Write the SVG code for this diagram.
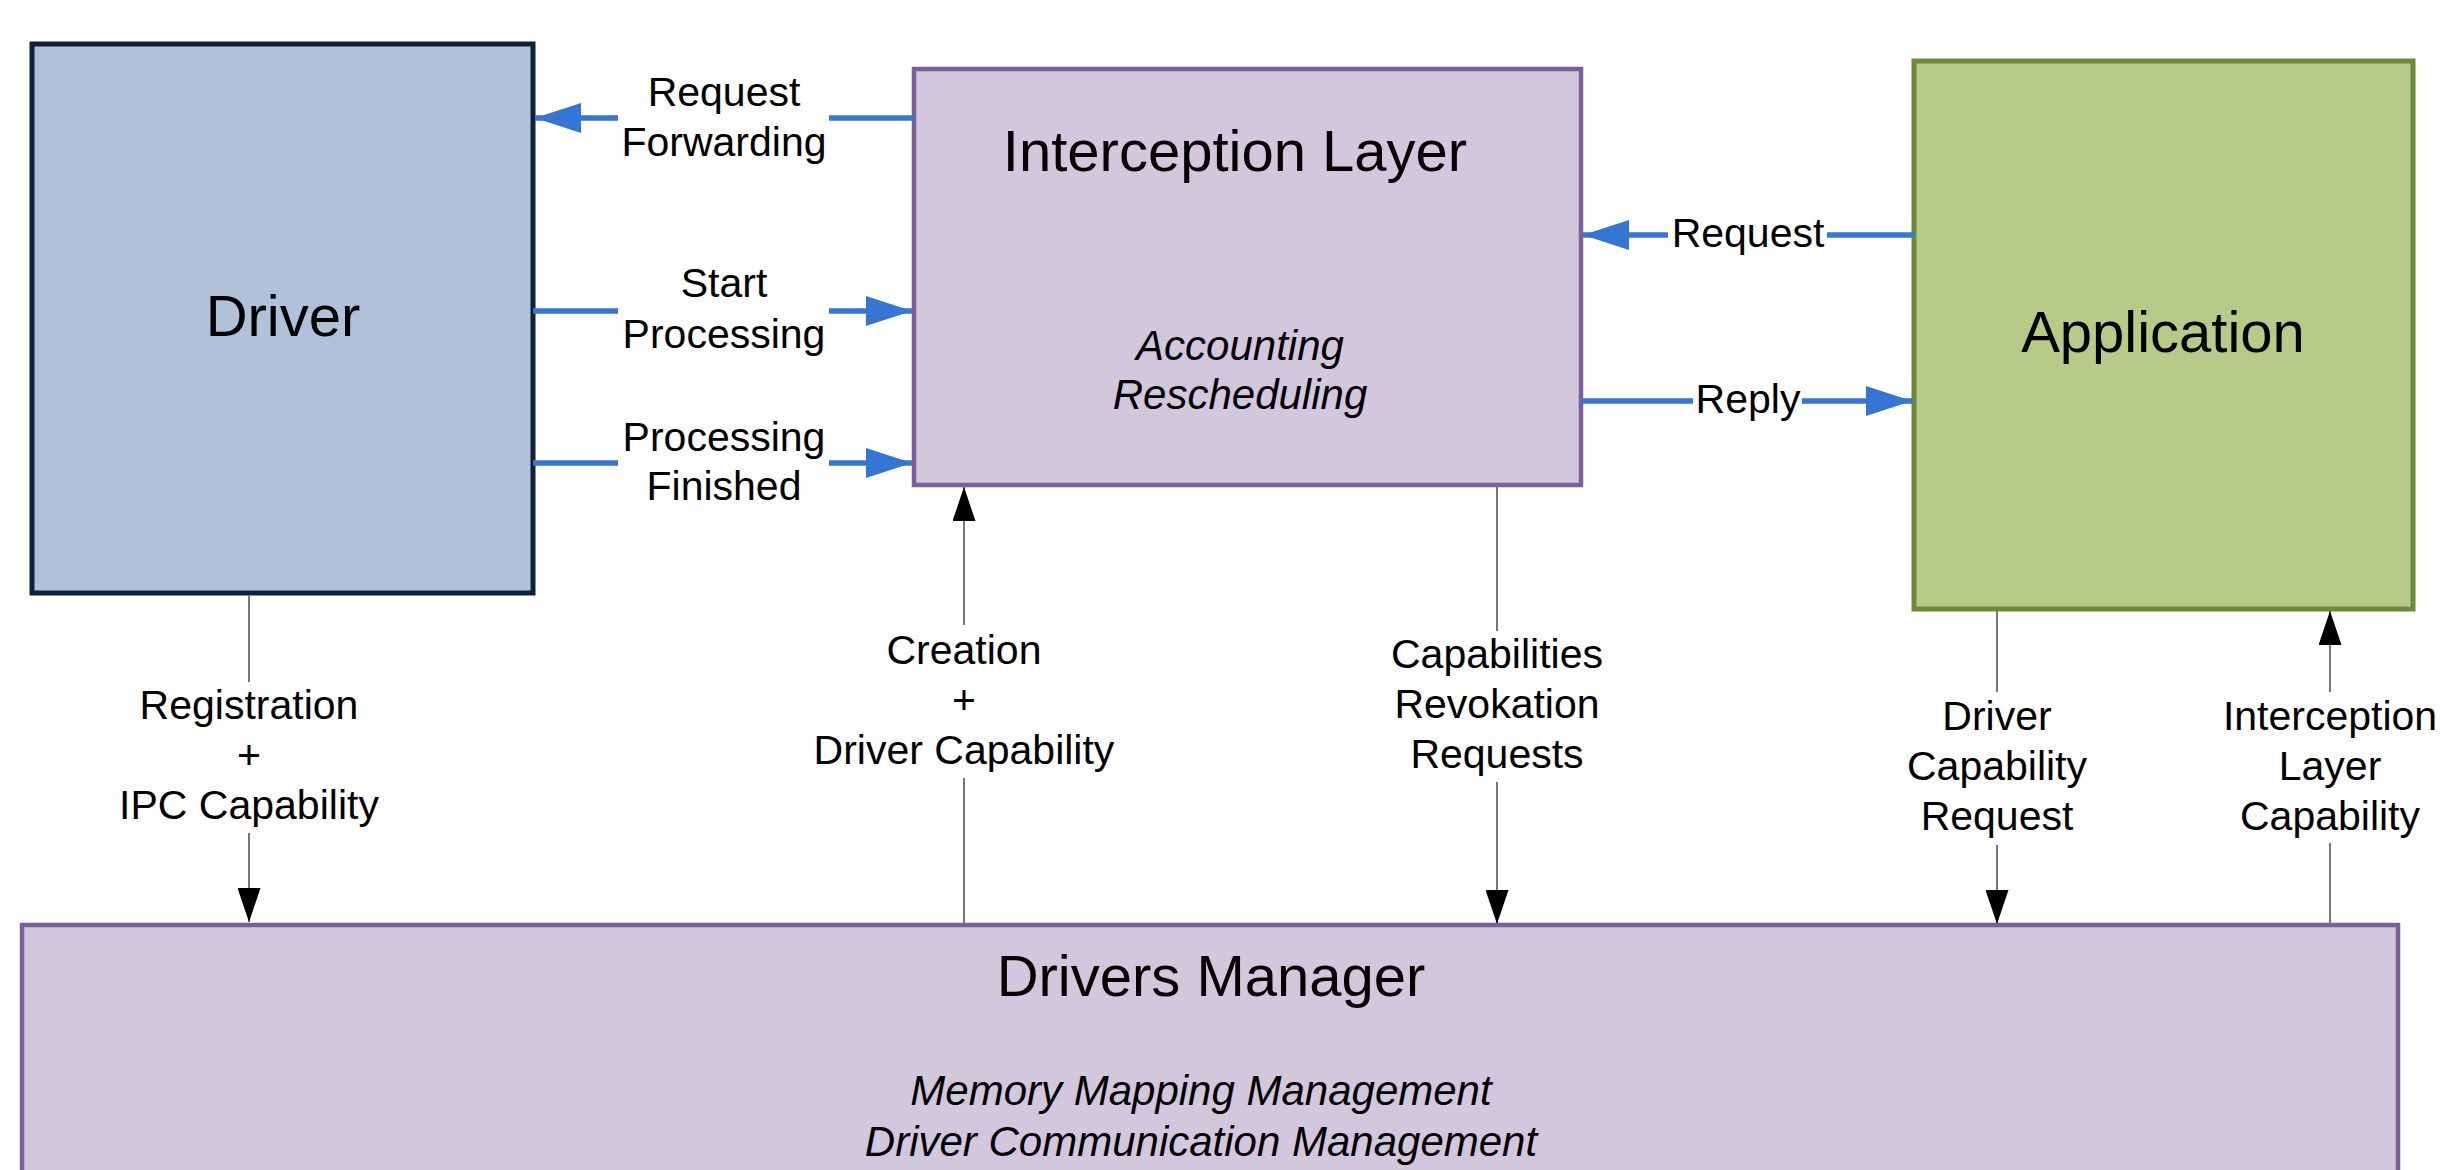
<svg xmlns="http://www.w3.org/2000/svg" width="2445" height="1170" viewBox="0 0 2445 1170">
  <style>
    .title { font-family: "Liberation Sans", Arial, sans-serif; font-size: 58px; fill: #000; text-anchor: middle; }
    .sub { font-family: "Liberation Sans", Arial, sans-serif; font-size: 42px; font-style: italic; fill: #000; text-anchor: middle; }
    .lbl { font-family: "Liberation Sans", Arial, sans-serif; font-size: 41px; fill: #000; text-anchor: middle; }
    .blue { stroke: #3575d3; stroke-width: 5.5; fill: none; }
    .thin { stroke: #777; stroke-width: 2; fill: none; }
  </style>
  <defs>
    <marker id="blueHead" markerUnits="userSpaceOnUse" markerWidth="46" markerHeight="30" refX="46" refY="15" orient="auto">
      <path d="M0,0 L46,15 L0,30 z" fill="#3575d3"/>
    </marker>
    <marker id="blackHead" markerUnits="userSpaceOnUse" markerWidth="34" markerHeight="23" refX="34" refY="11.5" orient="auto">
      <path d="M0,0 L34,11.5 L0,23 z" fill="#000"/>
    </marker>
  </defs>

  <rect width="2445" height="1170" fill="#fff"/>

  <!-- Nodes -->
  <g id="driver">
    <rect x="32" y="44" width="501" height="549" fill="#b0c2d9" stroke="#10203a" stroke-width="5"/>
    <text class="title" x="283" y="336">Driver</text>
  </g>

  <g id="interception-layer">
    <rect x="914" y="69" width="667" height="416" fill="#d2c8de" stroke="#7a5f9a" stroke-width="4.5"/>
    <text class="title" x="1235" y="171">Interception Layer</text>
    <text class="sub" x="1240" y="360">Accounting</text>
    <text class="sub" x="1240" y="409">Rescheduling</text>
  </g>

  <g id="application">
    <rect x="1914" y="61" width="499" height="548" fill="#b7ca87" stroke="#6b8a3a" stroke-width="5"/>
    <text class="title" x="2163" y="352">Application</text>
  </g>

  <g id="drivers-manager">
    <rect x="22" y="925" width="2376" height="270" fill="#d2c8de" stroke="#7a5f9a" stroke-width="4.5"/>
    <text class="title" x="1211" y="996">Drivers Manager</text>
    <text class="sub" x="1201" y="1105">Memory Mapping Management</text>
    <text class="sub" x="1201" y="1156">Driver Communication Management</text>
  </g>

  <!-- Connectors -->
  <g id="connectors">
    <!-- Interception Layer -> Driver -->
    <line class="blue" x1="914" y1="118" x2="829" y2="118"/>
    <line class="blue" x1="618" y1="118" x2="535" y2="118" marker-end="url(#blueHead)"/>
    <text class="lbl" x="724" y="106">Request</text>
    <text class="lbl" x="724" y="156">Forwarding</text>

    <!-- Driver -> Interception Layer -->
    <line class="blue" x1="533" y1="311" x2="618" y2="311"/>
    <line class="blue" x1="829" y1="311" x2="912" y2="311" marker-end="url(#blueHead)"/>
    <text class="lbl" x="724" y="297">Start</text>
    <text class="lbl" x="724" y="348">Processing</text>

    <line class="blue" x1="533" y1="463" x2="618" y2="463"/>
    <line class="blue" x1="829" y1="463" x2="912" y2="463" marker-end="url(#blueHead)"/>
    <text class="lbl" x="724" y="451">Processing</text>
    <text class="lbl" x="724" y="500">Finished</text>

    <!-- Application <-> Interception Layer -->
    <line class="blue" x1="1914" y1="235" x2="1827" y2="235"/>
    <line class="blue" x1="1668" y1="235" x2="1583" y2="235" marker-end="url(#blueHead)"/>
    <text class="lbl" x="1748" y="247">Request</text>

    <line class="blue" x1="1581" y1="401" x2="1693" y2="401"/>
    <line class="blue" x1="1802" y1="401" x2="1912" y2="401" marker-end="url(#blueHead)"/>
    <text class="lbl" x="1748" y="413">Reply</text>

    <!-- Driver -> Drivers Manager -->
    <line class="thin" x1="249" y1="595" x2="249" y2="682"/>
    <line class="thin" x1="249" y1="833" x2="249" y2="922" marker-end="url(#blackHead)"/>
    <text class="lbl" x="249" y="719">Registration</text>
    <text class="lbl" x="249" y="769">+</text>
    <text class="lbl" x="249" y="819">IPC Capability</text>

    <!-- Drivers Manager -> Interception Layer -->
    <line class="thin" x1="964" y1="924" x2="964" y2="778"/>
    <line class="thin" x1="964" y1="625" x2="964" y2="487" marker-end="url(#blackHead)"/>
    <text class="lbl" x="964" y="664">Creation</text>
    <text class="lbl" x="964" y="714">+</text>
    <text class="lbl" x="964" y="764">Driver Capability</text>

    <!-- Interception Layer -> Drivers Manager -->
    <line class="thin" x1="1497" y1="487" x2="1497" y2="631"/>
    <line class="thin" x1="1497" y1="782" x2="1497" y2="924" marker-end="url(#blackHead)"/>
    <text class="lbl" x="1497" y="668">Capabilities</text>
    <text class="lbl" x="1497" y="718">Revokation</text>
    <text class="lbl" x="1497" y="768">Requests</text>

    <!-- Application -> Drivers Manager -->
    <line class="thin" x1="1997" y1="611" x2="1997" y2="692"/>
    <line class="thin" x1="1997" y1="845" x2="1997" y2="924" marker-end="url(#blackHead)"/>
    <text class="lbl" x="1997" y="730">Driver</text>
    <text class="lbl" x="1997" y="780">Capability</text>
    <text class="lbl" x="1997" y="830">Request</text>

    <!-- Drivers Manager -> Application -->
    <line class="thin" x1="2330" y1="924" x2="2330" y2="843"/>
    <line class="thin" x1="2330" y1="692" x2="2330" y2="611" marker-end="url(#blackHead)"/>
    <text class="lbl" x="2330" y="730">Interception</text>
    <text class="lbl" x="2330" y="780">Layer</text>
    <text class="lbl" x="2330" y="830">Capability</text>
  </g>
</svg>
